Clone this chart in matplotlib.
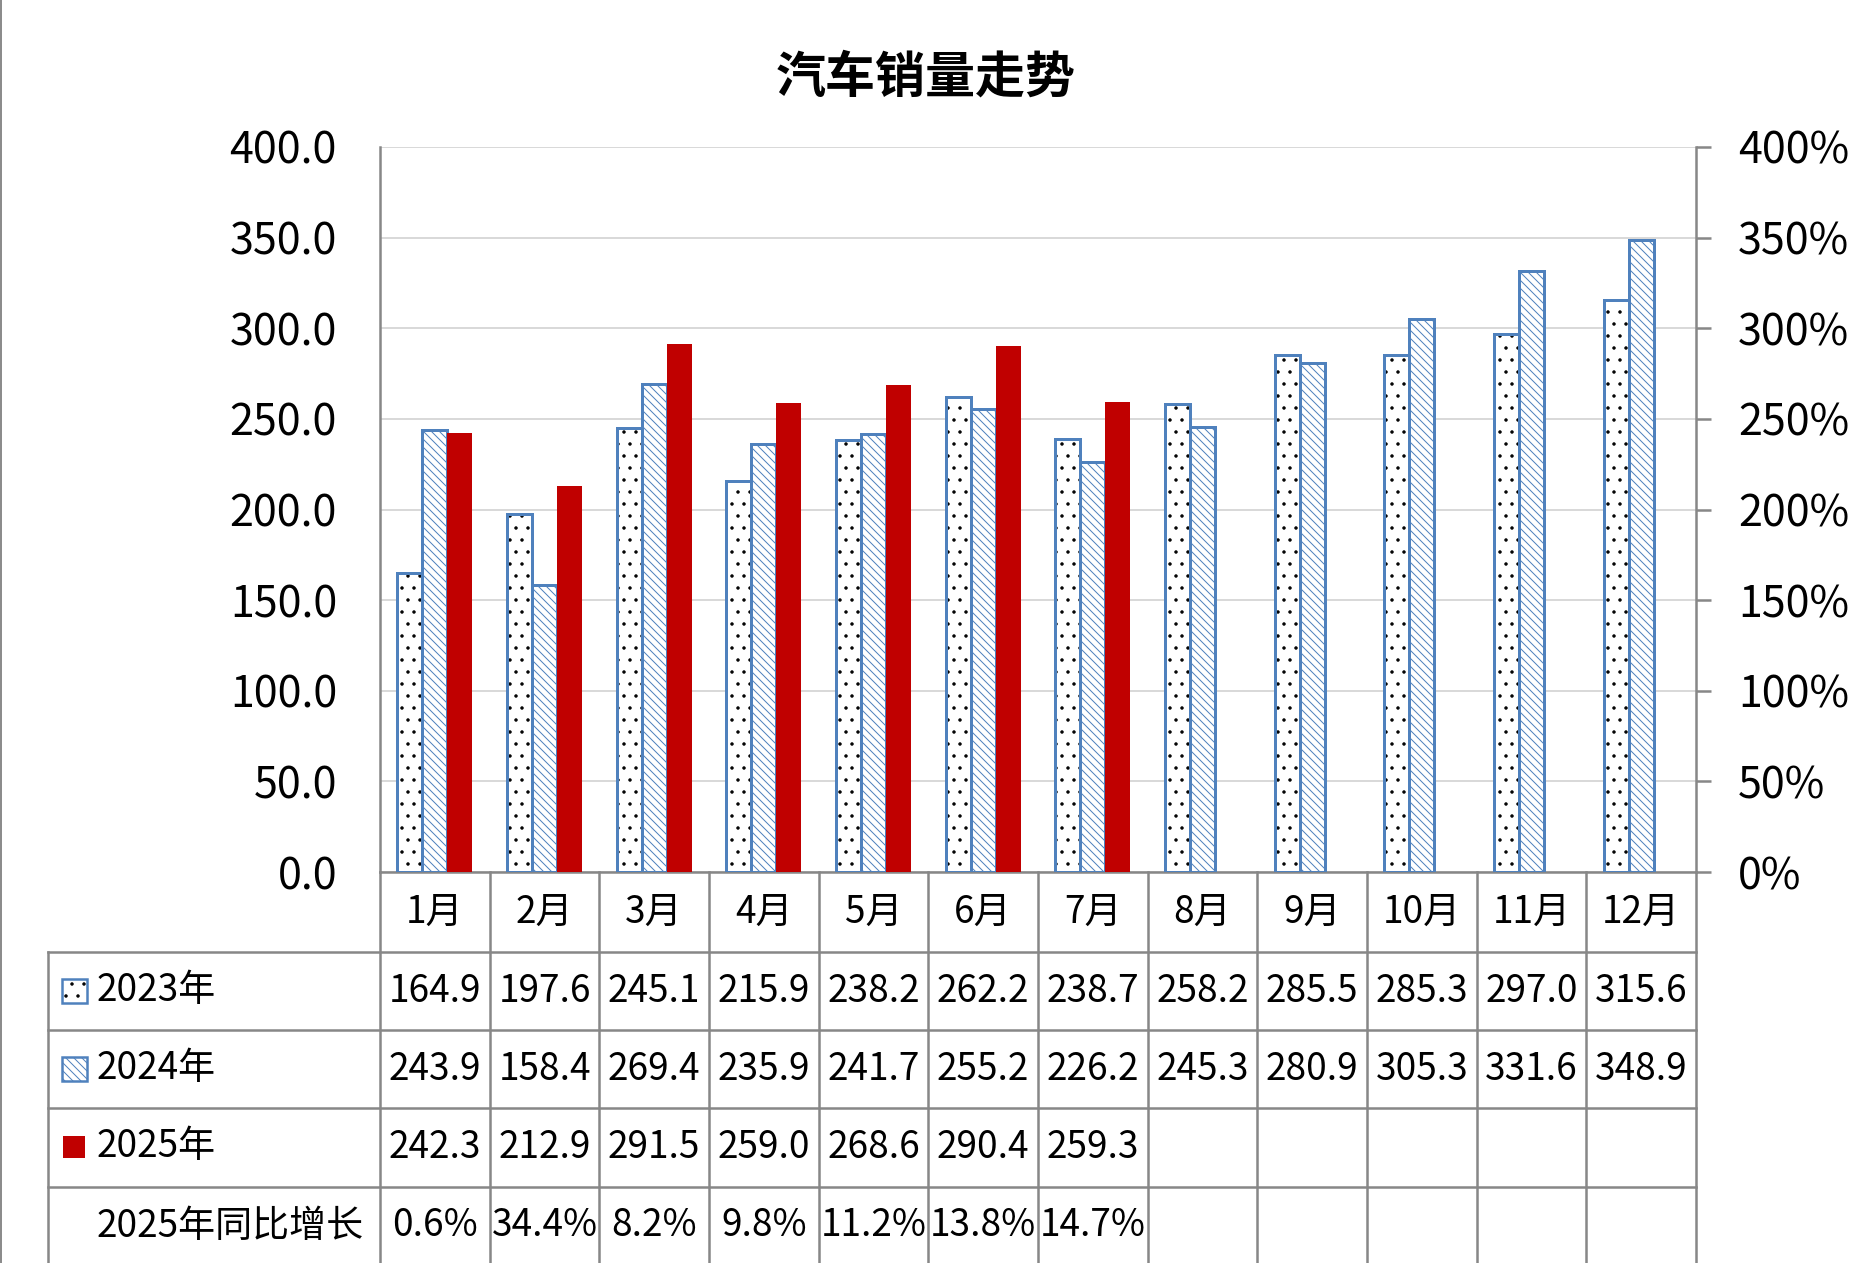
import matplotlib
matplotlib.use("Agg")
import matplotlib.pyplot as plt
import matplotlib.transforms as mtransforms
from matplotlib.lines import Line2D
from matplotlib.patches import Rectangle
from matplotlib.ticker import FuncFormatter, MultipleLocator

plt.rcParams['font.family'] = ['Noto Sans CJK SC', 'DejaVu Sans']
plt.rcParams['hatch.linewidth'] = 1.0

# ---- data ----
months = ['1月', '2月', '3月', '4月', '5月', '6月', '7月', '8月', '9月', '10月', '11月', '12月']
sales_2023 = [164.9, 197.6, 245.1, 215.9, 238.2, 262.2, 238.7, 258.2, 285.5, 285.3, 297.0, 315.6]
sales_2024 = [243.9, 158.4, 269.4, 235.9, 241.7, 255.2, 226.2, 245.3, 280.9, 305.3, 331.6, 348.9]
sales_2025 = [242.3, 212.9, 291.5, 259.0, 268.6, 290.4, 259.3]
growth_2025 = [0.6, 34.4, 8.2, 9.8, 11.2, 13.8, 14.7]
series_names = ['2023年', '2024年', '2025年']
growth_name = '2025年同比增长'
title = '汽车销量走势'

# ---- style ----
BLUE = '#4F81BD'
RED = '#C00000'
GRID = '#D9D9D9'
AXIS = '#878787'
W, H = 1851, 1263
DPI = 72

fig = plt.figure(figsize=(W / DPI, H / DPI), dpi=DPI)
fig.patch.set_facecolor('white')

# plot area in pixel terms
X0, X1, YTOP, YBOT = 380, 1696, 147, 872
ax = fig.add_axes([X0 / W, 1 - YBOT / H, (X1 - X0) / W, (YBOT - YTOP) / H])
ax.set_xlim(-0.5, len(months) - 0.5)
ax.set_ylim(0, 400)

bw = 0.228
xs = list(range(len(months)))


def hatched_bars(x, h, hatch, hatch_color):
    ax.bar(x, h, width=bw, facecolor='white', edgecolor=hatch_color,
           linewidth=0, hatch=hatch, zorder=2)
    ax.bar(x, h, width=bw, fill=False, edgecolor=BLUE, linewidth=3, zorder=3)


hatched_bars([x - bw for x in xs], sales_2023, '.', 'black')
hatched_bars(xs, sales_2024, '\\\\\\', BLUE)
ax.bar([x + bw for x in range(len(sales_2025))], sales_2025, width=bw,
       color=RED, linewidth=0, zorder=4)

ax.yaxis.set_major_locator(MultipleLocator(50))
ax.yaxis.set_major_formatter(FuncFormatter(lambda v, p: f'{v:.1f}'))
ax.yaxis.grid(True, color=GRID, linewidth=2)
ax.set_axisbelow(True)
ax.set_xticks([])
ax.tick_params(axis='y', length=0, pad=43, labelsize=43)
for s in ['top', 'right']:
    ax.spines[s].set_visible(False)
for s in ['left', 'bottom']:
    ax.spines[s].set_color(AXIS)
    ax.spines[s].set_linewidth(2.5)

ax2 = ax.twinx()
ax2.set_ylim(0, 4)
ax2.yaxis.set_major_locator(MultipleLocator(0.5))
ax2.yaxis.set_major_formatter(FuncFormatter(lambda v, p: f'{v * 100:.0f}%'))
ax2.tick_params(axis='y', length=15, width=2.5, color=AXIS, pad=27,
                labelsize=43, direction='out')
for s in ['top', 'left', 'bottom']:
    ax2.spines[s].set_visible(False)
ax2.spines['right'].set_color(AXIS)
ax2.spines['right'].set_linewidth(2.5)

# ---- data table under the plot ----
blend = mtransforms.blended_transform_factory(ax.transData, fig.transFigure)
col_w = (X1 - X0) / len(months)
x_table_left = -0.5 + (48 - X0) / col_w


def fy(py):
    return 1 - py / H


row_lines = [952, 1030, 1108, 1187]
row_centers = [912, 991, 1069, 1147, 1226]

for py in row_lines:
    fig.add_artist(Line2D([x_table_left, len(months) - 0.5], [fy(py), fy(py)],
                          transform=blend, color=AXIS, linewidth=2.5))
for k in range(len(months) + 1):
    fig.add_artist(Line2D([k - 0.5, k - 0.5], [fy(YBOT), 0],
                          transform=blend, color=AXIS, linewidth=2.5))
fig.add_artist(Line2D([x_table_left, x_table_left], [fy(row_lines[0]), 0],
                      transform=blend, color=AXIS, linewidth=2.5))

TFS = 37
for i, m in enumerate(months):
    fig.text(i, fy(row_centers[0]), m, transform=blend, ha='center',
             va='center', fontsize=TFS)
for r, values in enumerate([sales_2023, sales_2024, sales_2025]):
    for i, v in enumerate(values):
        fig.text(i, fy(row_centers[r + 1]), f'{v:.1f}', transform=blend,
                 ha='center', va='center', fontsize=TFS)
for i, g in enumerate(growth_2025):
    fig.text(i, fy(row_centers[4]), f'{g:.1f}%', transform=blend,
             ha='center', va='center', fontsize=TFS)

# row headers with legend keys
for r, name in enumerate(series_names + [growth_name]):
    fig.text(97 / W, fy(row_centers[r + 1]), name, ha='left', va='center',
             fontsize=TFS)

key_kw = dict(transform=fig.transFigure)
kx, kw, kh = 62 / W, 25 / W, 24 / H
fig.add_artist(Rectangle((kx, fy(row_centers[1] + 12)), kw, kh, facecolor='white',
                         edgecolor='black', linewidth=0, hatch='.', **key_kw))
fig.add_artist(Rectangle((kx, fy(row_centers[1] + 12)), kw, kh, fill=False,
                         edgecolor=BLUE, linewidth=2.5, **key_kw))
fig.add_artist(Rectangle((kx, fy(row_centers[2] + 12)), kw, kh, facecolor='white',
                         edgecolor=BLUE, linewidth=0, hatch='\\\\\\', **key_kw))
fig.add_artist(Rectangle((kx, fy(row_centers[2] + 12)), kw, kh, fill=False,
                         edgecolor=BLUE, linewidth=2.5, **key_kw))
fig.add_artist(Rectangle((63 / W, fy(row_centers[3] + 11)), 22 / W, 22 / H,
                         facecolor=RED, linewidth=0, **key_kw))

# frame edge on the left
fig.add_artist(Line2D([1 / W, 1 / W], [0, 1], transform=fig.transFigure,
                      color='#8C8C8C', linewidth=2))

fig.text(926 / W, fy(78), title, ha='center', va='center', fontsize=50,
         fontweight='bold')

fig.savefig('out.png', dpi=DPI, facecolor='white')
